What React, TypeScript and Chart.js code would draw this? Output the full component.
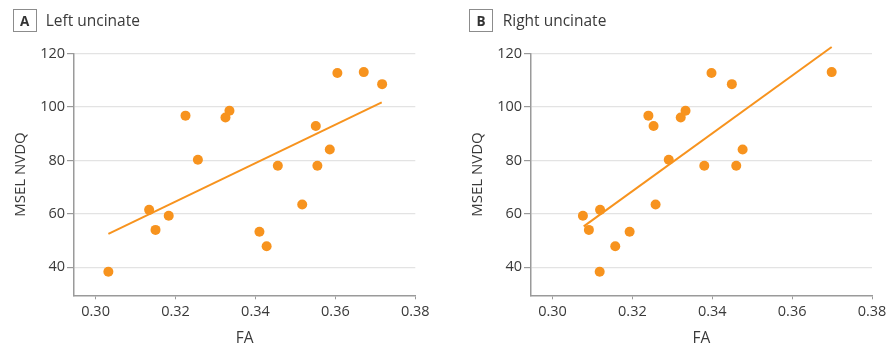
import React, { useEffect, useRef } from "react";
import { Chart, registerables } from "chart.js";

Chart.register(...registerables);

// ---- Data ----
const leftFA = [0.3032, 0.3134, 0.315, 0.3183, 0.3225, 0.3256, 0.3325, 0.3335, 0.341, 0.3428, 0.3456, 0.3517, 0.3551, 0.3555, 0.3586, 0.3605, 0.3671, 0.3717];
const leftNVDQ = [38.3, 61.5, 54.0, 59.3, 96.8, 80.3, 96.1, 98.6, 53.3, 47.9, 78.0, 63.5, 92.9, 78.0, 84.1, 112.8, 113.1, 108.6];
const rightFA = [0.3076, 0.3091, 0.3119, 0.3118, 0.3157, 0.3193, 0.324, 0.3253, 0.3258, 0.3291, 0.3321, 0.3333, 0.338, 0.3398, 0.3449, 0.346, 0.3476, 0.3699];
const rightNVDQ = [59.3, 54.0, 61.5, 38.3, 47.9, 53.3, 96.8, 92.9, 63.5, 80.3, 96.1, 98.6, 78.0, 112.8, 108.6, 78.0, 84.1, 113.1];
const leftFitFA = [0.3032, 0.3716];
const leftFitNVDQ = [52.5, 101.8];
const rightFitFA = [0.3078, 0.3699];
const rightFitNVDQ = [55.3, 122.5];
const xTicks = [0.3, 0.32, 0.34, 0.36, 0.38];
const yTicks = [40, 60, 80, 100, 120];
const xLabel = "FA";
const yLabel = "MSEL NVDQ";

const ORANGE = "#F7931E";
const AXIS = "#9a9a9a";
const GRID = "#e3e3e3";
const TEXT = "#3a3a3a";
const FONT = "'Open Sans', 'Noto Sans', sans-serif";

type PanelProps = {
  letter: string;
  title: string;
  xs: number[];
  ys: number[];
  fx: number[];
  fy: number[];
  left: number;
  axisWidth: number;
  padRight: number;
};

function Panel({ letter, title, xs, ys, fx, fy, left, axisWidth, padRight }: PanelProps) {
  const ref = useRef<HTMLCanvasElement | null>(null);
  useEffect(() => {
    if (!ref.current) return;
    const chart = new Chart(ref.current, {
      type: "scatter",
      data: {
        datasets: [
          {
            data: xs.map((x, i) => ({ x, y: ys[i] })),
            backgroundColor: ORANGE,
            borderWidth: 0,
            pointRadius: 5,
            pointHoverRadius: 5,
          },
          {
            data: fx.map((x, i) => ({ x, y: fy[i] })),
            showLine: true,
            borderColor: ORANGE,
            borderWidth: 2,
            pointRadius: 0,
            clip: false,
          } as any,
        ],
      },
      options: {
        responsive: false,
        animation: false,
        events: [],
        layout: { padding: { top: 53.7, right: padRight, left: 0, bottom: 0 } },
        plugins: { legend: { display: false }, tooltip: { enabled: false } },
        scales: {
          x: {
            type: "linear",
            min: 0.2946,
            max: 0.38,
            afterBuildTicks: (s: any) => {
              s.ticks = xTicks.map((v) => ({ value: v }));
            },
            afterFit: (s: any) => {
              s.height = 58.7;
            },
            ticks: {
              callback: (v: any) => Number(v).toFixed(2),
              font: { family: FONT, size: 14.5 },
              color: TEXT,
              padding: 4,
              maxRotation: 0,
              autoSkip: false,
            },
            grid: { drawOnChartArea: false, drawTicks: true, tickLength: 4, tickColor: AXIS, color: AXIS, lineWidth: 1 },
            border: { color: AXIS, width: 1.5 },
            title: {
              display: true,
              text: xLabel,
              font: { family: FONT, size: 15.5 },
              color: TEXT,
              padding: { top: 0, bottom: 6.4 },
            },
          },
          y: {
            type: "linear",
            min: 29.5,
            max: 120,
            afterBuildTicks: (s: any) => {
              s.ticks = yTicks.map((v) => ({ value: v }));
            },
            afterFit: (s: any) => {
              s.width = axisWidth;
            },
            ticks: {
              font: { family: FONT, size: 14.5 },
              color: TEXT,
              padding: 2,
            },
            grid: { color: GRID, lineWidth: 1.2, tickLength: 7, tickColor: AXIS },
            border: { color: AXIS, width: 1.5 },
            title: {
              display: true,
              text: yLabel,
              font: { family: FONT, size: 15 },
              color: TEXT,
              padding: { top: 11.4 + (axisWidth - 74), bottom: 0 },
            },
          },
        },
      },
    });
    return () => chart.destroy();
  }, []);

  return (
    <div style={{ position: "absolute", left, top: 0, width: 446, height: 354 }}>
      <canvas ref={ref} width={446} height={354} style={{ position: "absolute", left: 0, top: 0, width: 446, height: 354 }} />
      <div
        style={{
          position: "absolute",
          left: left === 0 ? 13 : 23.3,
          top: 9,
          width: 23.5,
          height: 23,
          boxSizing: "border-box",
          border: "1.5px solid #8c8c8c",
          display: "flex",
          alignItems: "center",
          justifyContent: "center",
          fontFamily: FONT,
          fontWeight: 700,
          fontSize: 13.5,
          color: "#333",
        }}
      >
        {letter}
      </div>
      <div
        style={{
          position: "absolute",
          left: left === 0 ? 45.7 : 56.7,
          top: 8.8,
          fontFamily: FONT,
          fontSize: 15.5,
          lineHeight: "normal",
          color: "#3a3a3a",
          whiteSpace: "nowrap",
        }}
      >
        {title}
      </div>
    </div>
  );
}

export default function App() {
  return (
    <div style={{ position: "absolute", left: 0, top: 0, width: 892, height: 354, background: "#fff" }}>
      <Panel letter="A" title="Left uncinate" xs={leftFA} ys={leftNVDQ} fx={leftFitFA} fy={leftFitNVDQ} left={0} axisWidth={74} padRight={30.7} />
      <Panel letter="B" title="Right uncinate" xs={rightFA} ys={rightNVDQ} fx={rightFitFA} fy={rightFitNVDQ} left={446} axisWidth={85} padRight={20} />
    </div>
  );
}
